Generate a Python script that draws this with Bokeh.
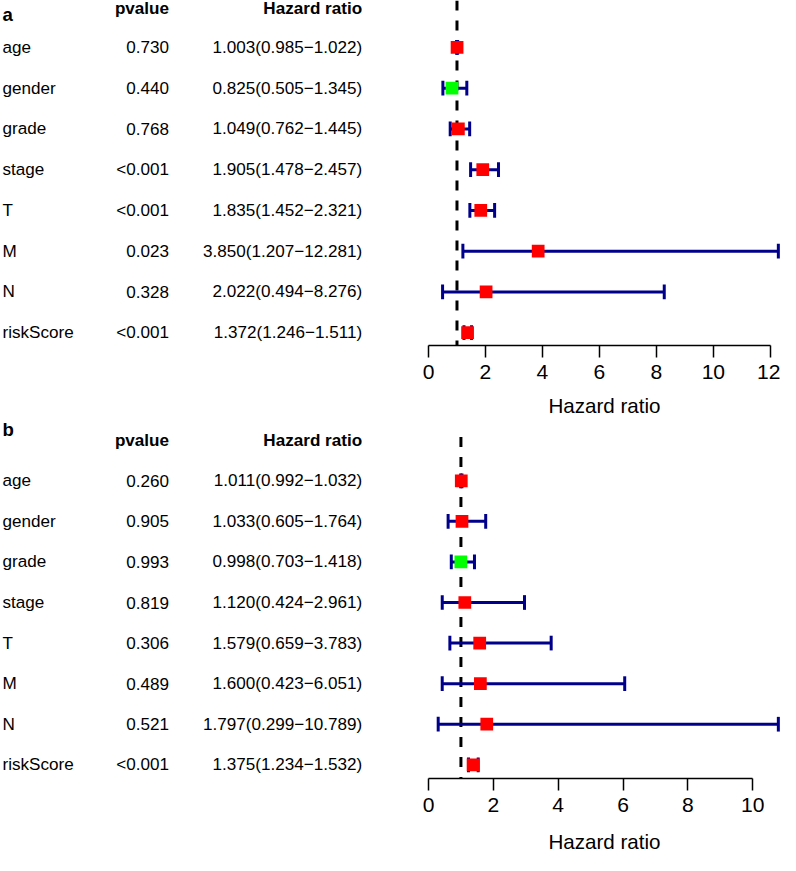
import numpy as np
from bokeh.plotting import figure
from bokeh.models import Range1d, FixedTicker, ColumnDataSource
from bokeh.layouts import column, row
from bokeh.embed import file_html
from bokeh.resources import INLINE
from bokeh.core.properties import value

# ---------------- data ----------------
variables = ["age", "gender", "grade", "stage", "T", "M", "N", "riskScore"]
header_labels = ["pvalue", "Hazard ratio"]
axis_title = "Hazard ratio"

pvalue_a = ["0.730", "0.440", "0.768", "<0.001", "<0.001", "0.023", "0.328", "<0.001"]
hr_a = [1.003, 0.825, 1.049, 1.905, 1.835, 3.850, 2.022, 1.372]
lo_a = [0.985, 0.505, 0.762, 1.478, 1.452, 1.207, 0.494, 1.246]
hi_a = [1.022, 1.345, 1.445, 2.457, 2.321, 12.281, 8.276, 1.511]
ticks_a = [0, 2, 4, 6, 8, 10, 12]

pvalue_b = ["0.260", "0.905", "0.993", "0.819", "0.306", "0.489", "0.521", "<0.001"]
hr_b = [1.011, 1.033, 0.998, 1.120, 1.579, 1.600, 1.797, 1.375]
lo_b = [0.992, 0.605, 0.703, 0.424, 0.659, 0.423, 0.299, 1.234]
hi_b = [1.032, 1.764, 1.418, 2.961, 3.783, 6.051, 10.789, 1.532]
ticks_b = [0, 2, 4, 6, 8, 10]

reference_hr = 1

# ---------------- style / layout ----------------
S = 0.98
FONT = "Liberation Sans"
NAVY = "#00008B"
RED = "#FF0000"
GREEN = "#00FF00"
REF_W = 796
ROW_PX = 41.7
X0_PX = 436.7
XMAX_PX = 793.8
TOTAL_W = 780
BL = 14                              # left border of forest figure
WL = round(X0_PX * S) - BL           # width of text figure
WR = TOTAL_W - WL


def fs(px):
    return f"{px * S:.1f}px"


def panel(tag, pvals, hr, lo, hi, ticks, top_px, height_px, first_row_px,
          axis_px, header_px, tag_px, dash_top_px, title_standoff):
    def yi(px):
        return 1 + (px - first_row_px) / ROW_PX

    xmax = max(hi)
    ppu = (XMAX_PX - X0_PX) / xmax

    H = round(height_px * S)
    frame_h = round((axis_px - top_px) * S)
    bottom = H - frame_h
    yr = Range1d(yi(axis_px), yi(top_px))

    rows = list(range(1, len(variables) + 1))
    colors = [RED if h > reference_hr else GREEN for h in hr]
    hrtxt = [f"{h:.3f}({l:.3f}\u2212{u:.3f})" for h, l, u in zip(hr, lo, hi)]
    src = ColumnDataSource(dict(y=rows, hr=hr, lo=lo, hi=hi, color=colors,
                                name=variables, pv=pvals, hrtxt=hrtxt))

    # ---- text table figure ----
    t = figure(width=WL, height=H, x_range=Range1d(0, WL), y_range=yr,
               output_backend="svg", toolbar_location=None,
               x_axis_location=None, y_axis_location=None, title=None,
               min_border_left=0, min_border_right=0,
               min_border_top=0, min_border_bottom=bottom)
    t.outline_line_color = None
    t.xgrid.grid_line_color = None
    t.ygrid.grid_line_color = None

    tf = value(FONT)
    t.text(x=2 * S, y="y", text="name", source=src, text_font=tf,
           text_font_size=fs(17.5), text_align="left", text_baseline="middle",
           text_color="black")
    t.text(x=172 * S, y="y", text="pv", source=src, text_font=tf,
           text_font_size=fs(17.5), text_align="right", text_baseline="middle",
           text_color="black")
    t.text(x=369 * S, y="y", text="hrtxt", source=src, text_font=tf,
           text_font_size=fs(17.5), text_align="right", text_baseline="middle",
           text_color="black")
    t.text(x=[172 * S, 369 * S], y=[yi(header_px)] * 2, text=header_labels,
           text_font=tf, text_font_size=fs(17.5), text_font_style="bold",
           text_align="right", text_baseline="middle", text_color="black")
    t.text(x=[2 * S], y=[yi(tag_px)], text=[tag], text_font=tf,
           text_font_size=fs(19), text_font_style="bold",
           text_align="left", text_baseline="middle", text_color="black")

    # ---- forest figure ----
    x_end = (REF_W - X0_PX) / ppu
    p = figure(width=WR, height=H, x_range=Range1d(0, x_end), y_range=yr,
               output_backend="svg", toolbar_location=None,
               y_axis_location=None, title=None,
               min_border_left=BL, min_border_right=0,
               min_border_top=0, min_border_bottom=bottom)
    p.outline_line_color = None
    p.xgrid.grid_line_color = None
    p.ygrid.grid_line_color = None

    p.segment(x0=reference_hr, y0=yi(dash_top_px), x1=reference_hr, y1=yi(axis_px),
              line_color="black", line_width=3, line_dash="10 10")
    p.segment(x0="lo", y0="y", x1="hi", y1="y", source=src,
              line_color=NAVY, line_width=3)
    for col in ("lo", "hi"):
        p.scatter(x=col, y="y", source=src, marker="dash", angle=np.pi / 2,
                  size=15 * S, line_color=NAVY, line_width=3)
    p.scatter(x="hr", y="y", source=src, marker="square", size=13 * S,
              fill_color="color", line_color=None)

    ax = p.xaxis[0]
    ax.ticker = FixedTicker(ticks=ticks)
    ax.bounds = (ticks[0], ticks[-1])
    ax.axis_line_color = "black"
    ax.axis_line_width = 1.5
    ax.major_tick_line_color = "black"
    ax.major_tick_line_width = 1.5
    ax.major_tick_out = round(12 * S)
    ax.major_tick_in = 0
    ax.minor_tick_line_color = None
    ax.major_label_text_font = FONT
    ax.major_label_text_font_size = fs(21.5)
    ax.major_label_text_color = "black"
    ax.major_label_standoff = 7
    ax.axis_label = axis_title
    ax.axis_label_text_font = FONT
    ax.axis_label_text_font_size = fs(21)
    ax.axis_label_text_font_style = "normal"
    ax.axis_label_text_color = "black"
    ax.axis_label_standoff = title_standoff

    return row(t, p, spacing=0)


pa = panel("a", pvalue_a, hr_a, lo_a, hi_a, ticks_a, top_px=0, height_px=428,
           first_row_px=48, axis_px=353, header_px=8, tag_px=14,
           dash_top_px=0, title_standoff=12)
pb = panel("b", pvalue_b, hr_b, lo_b, hi_b, ticks_b, top_px=430, height_px=445,
           first_row_px=493, axis_px=799, header_px=452, tag_px=440,
           dash_top_px=448, title_standoff=15)

layout = column(pa, pb, spacing=0)
open("out.html", "w").write(file_html(layout, INLINE))
